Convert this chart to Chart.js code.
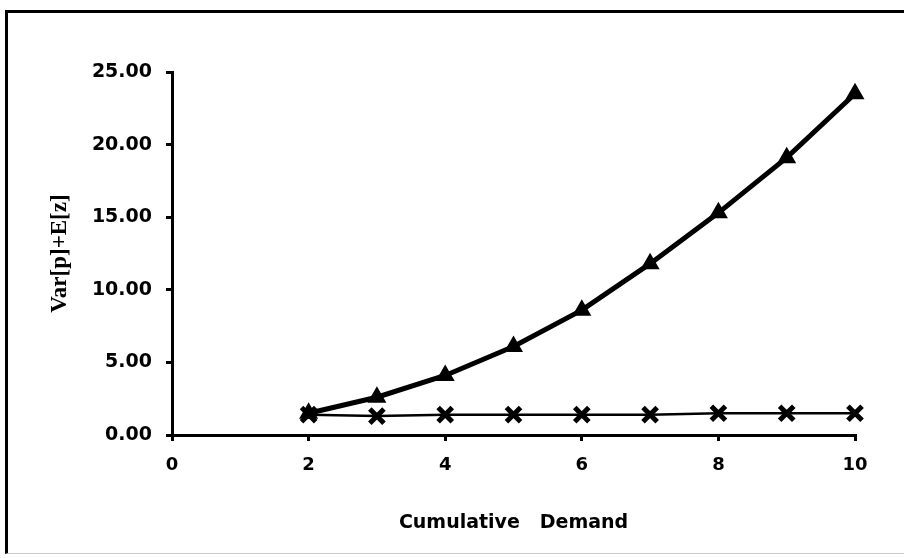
<!DOCTYPE html>
<html>
<head>
<meta charset="utf-8">
<script src="https://cdn.jsdelivr.net/npm/chart.js@4"></script>
<style>
  html, body { margin: 0; padding: 0; background: #fff; }
  #wrap { position: relative; width: 904px; height: 558px; }
  #frame {
    position: absolute; left: 5px; top: 10px; right: -4px; bottom: 4px;
    border-top: 3px solid #000; border-left: 3px solid #000;
    border-bottom: 1px solid #ccc;
    pointer-events: none;
  }
</style>
</head>
<body>
<div id="wrap">
  <canvas id="chart" width="904" height="558"></canvas>
  <div id="frame"></div>
</div>
<script>
// cumulative demand on the x axis
const demand = [2, 3, 4, 5, 6, 7, 8, 9, 10];
// series drawn with triangles
const triangleSeries = [1.5, 2.6, 4.1, 6.1, 8.6, 11.8, 15.3, 19.1, 23.5];
// series drawn with crosses
const crossSeries = [1.4, 1.3, 1.4, 1.4, 1.4, 1.4, 1.5, 1.5, 1.5];

const xTicks = [0, 2, 4, 6, 8, 10];
const yTicks = [0, 5, 10, 15, 20, 25];

const toPoints = (values) => demand.map((x, i) => ({ x: x, y: values[i] }));

const boldSans = (size) => ({ family: 'DejaVu Sans', weight: 'bold', size: size });

const ctx = document.getElementById('chart').getContext('2d');
new Chart(ctx, {
  type: 'line',
  data: {
    datasets: [
      {
        label: 'triangles',
        data: toPoints(triangleSeries),
        borderColor: '#000',
        backgroundColor: '#000',
        borderWidth: 5,
        pointStyle: 'triangle',
        pointRadius: 9,
        pointBorderWidth: 2,
        tension: 0,
        clip: false,
      },
      {
        label: 'crosses',
        data: toPoints(crossSeries),
        borderColor: '#000',
        backgroundColor: '#000',
        borderWidth: 2.5,
        pointStyle: 'crossRot',
        pointRadius: 10,
        pointBorderWidth: 5,
        tension: 0,
        clip: false,
      },
    ],
  },
  options: {
    responsive: false,
    animation: false,
    layout: { padding: { left: 0, right: 49, top: 72, bottom: 20 } },
    plugins: { legend: { display: false }, tooltip: { enabled: false } },
    scales: {
      x: {
        type: 'linear',
        min: 0,
        max: 10,
        afterBuildTicks: (scale) => { scale.ticks = xTicks.map((v) => ({ value: v })); },
        afterFit: (scale) => { scale.height = 103; },
        border: { display: true, color: '#000', width: 3 },
        grid: { drawOnChartArea: false, color: '#000', lineWidth: 3, tickLength: 6 },
        ticks: { color: '#000', font: boldSans(18), padding: 14 },
        title: {
          display: true,
          text: 'Cumulative   Demand',
          color: '#000',
          font: boldSans(19),
          padding: { top: 0, bottom: 4 },
        },
      },
      y: {
        type: 'linear',
        min: 0,
        max: 25,
        afterBuildTicks: (scale) => { scale.ticks = yTicks.map((v) => ({ value: v })); },
        afterFit: (scale) => { scale.width = 172; },
        border: { display: true, color: '#000', width: 3 },
        grid: { drawOnChartArea: false, color: '#000', lineWidth: 3, tickLength: 6 },
        ticks: {
          color: '#000',
          font: boldSans(19),
          padding: 14,
          callback: (v) => v.toFixed(2),
        },
        title: {
          display: true,
          text: 'Var[p]+E[z]',
          color: '#000',
          font: { family: 'Liberation Serif', weight: 'bold', size: 23 },
          padding: { top: 46, bottom: 0 },
        },
      },
    },
  },
});
</script>
</body>
</html>
